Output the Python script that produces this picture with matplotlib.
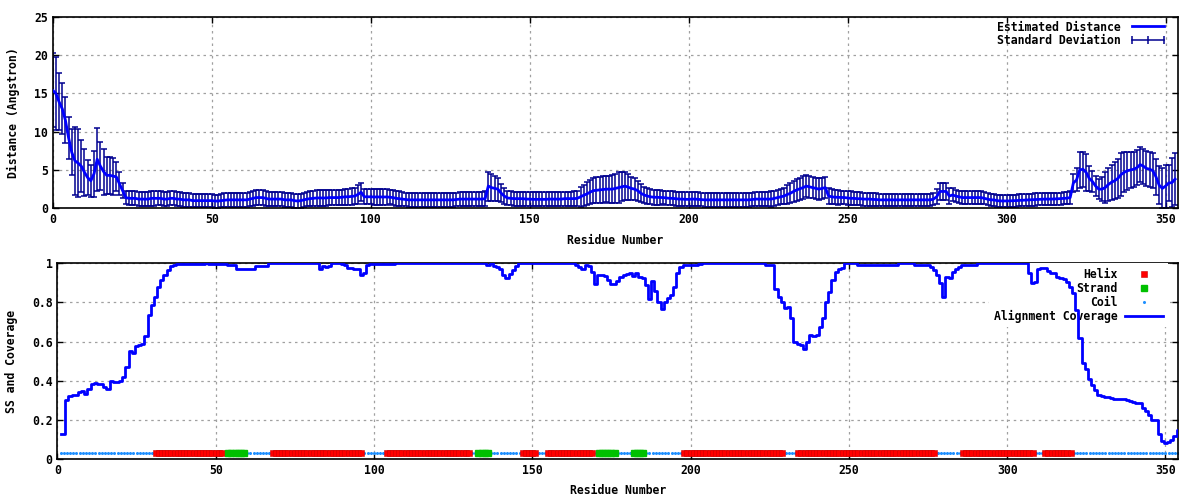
import numpy as np
import matplotlib
matplotlib.use("Agg")
import matplotlib.pyplot as plt
from matplotlib.lines import Line2D

# distance estimate per residue (0..353)
dist = [
    15.4, 15.0, 13.9, 13.0, 11.5, 9.2, 7.3, 6.2, 5.9, 5.5,
    4.7, 4.0, 3.6, 4.5, 6.4, 5.5, 4.8, 4.3, 4.3, 4.2,
    4.1, 3.2, 2.3, 1.4, 1.3, 1.3, 1.3, 1.2, 1.2, 1.2,
    1.2, 1.3, 1.3, 1.3, 1.3, 1.2, 1.2, 1.3, 1.3, 1.2,
    1.2, 1.1, 1.1, 1.1, 1.0, 1.0, 1.0, 1.0, 1.0, 1.0,
    1.0, 0.95, 0.95, 1.0, 1.05, 1.1, 1.1, 1.1, 1.1, 1.1,
    1.1, 1.1, 1.2, 1.3, 1.4, 1.4, 1.4, 1.3, 1.2, 1.2,
    1.2, 1.2, 1.2, 1.1, 1.1, 1.1, 1.0, 0.95, 1.0, 1.1,
    1.2, 1.26, 1.3, 1.35, 1.35, 1.35, 1.35, 1.4, 1.4, 1.4,
    1.4, 1.45, 1.5, 1.5, 1.55, 1.6, 1.8, 2.1, 1.5, 1.5,
    1.5, 1.48, 1.48, 1.48, 1.48, 1.48, 1.45, 1.4, 1.3, 1.25,
    1.2, 1.15, 1.1, 1.1, 1.1, 1.1, 1.1, 1.1, 1.1, 1.1,
    1.1, 1.1, 1.1, 1.1, 1.1, 1.1, 1.1, 1.15, 1.2, 1.2,
    1.2, 1.2, 1.2, 1.2, 1.2, 1.2, 1.25, 2.9, 2.7, 2.6,
    2.5, 2.0, 1.6, 1.35, 1.3, 1.26, 1.26, 1.26, 1.25, 1.2,
    1.2, 1.17, 1.17, 1.17, 1.17, 1.17, 1.2, 1.2, 1.2, 1.2,
    1.2, 1.26, 1.26, 1.26, 1.26, 1.3, 1.5, 1.7, 1.87, 2.1,
    2.3, 2.35, 2.4, 2.45, 2.5, 2.5, 2.5, 2.6, 2.7, 2.8,
    2.9, 2.75, 2.6, 2.5, 2.3, 1.96, 1.74, 1.6, 1.5, 1.45,
    1.43, 1.4, 1.4, 1.35, 1.3, 1.3, 1.25, 1.2, 1.2, 1.17,
    1.17, 1.2, 1.2, 1.17, 1.15, 1.1, 1.1, 1.1, 1.1, 1.1,
    1.1, 1.1, 1.1, 1.1, 1.1, 1.1, 1.1, 1.1, 1.1, 1.1,
    1.15, 1.2, 1.2, 1.2, 1.2, 1.2, 1.2, 1.3, 1.4, 1.5,
    1.6, 1.8, 1.96, 2.2, 2.4, 2.55, 2.7, 2.9, 2.8, 2.7,
    2.6, 2.5, 2.6, 2.7, 1.6, 1.5, 1.45, 1.43, 1.4, 1.4,
    1.35, 1.3, 1.3, 1.25, 1.25, 1.2, 1.2, 1.2, 1.15, 1.15,
    1.1, 1.1, 1.1, 1.1, 1.1, 1.1, 1.1, 1.1, 1.1, 1.1,
    1.1, 1.1, 1.1, 1.1, 1.1, 1.1, 1.1, 1.2, 1.5, 2.2,
    2.2, 2.2, 1.6, 1.74, 1.6, 1.5, 1.4, 1.4, 1.4, 1.4,
    1.4, 1.4, 1.4, 1.3, 1.2, 1.1, 1.1, 1.0, 0.96, 0.96,
    0.96, 0.96, 1.0, 1.0, 1.04, 1.05, 1.08, 1.1, 1.12, 1.15,
    1.17, 1.18, 1.2, 1.2, 1.2, 1.22, 1.24, 1.26, 1.3, 1.32,
    1.4, 3.3, 3.7, 5.0, 5.1, 4.7, 3.9, 3.5, 2.9, 2.5,
    2.5, 2.7, 3.1, 3.4, 3.6, 3.9, 4.4, 4.7, 4.9, 5.0,
    5.1, 5.3, 5.7, 5.5, 5.2, 5.1, 4.9, 4.1, 3.0, 2.6,
    2.9, 3.3, 3.35, 3.8,
]

# standard deviation per residue
std = [
    4.85, 4.75, 3.7, 3.3, 3.0, 2.75, 3.0, 4.4, 4.4, 3.4,
    3.1, 2.3, 2.1, 3.0, 4.1, 3.1, 3.0, 2.4, 2.4, 2.4,
    1.9, 1.5, 1.0, 0.9, 0.9, 0.9, 0.9, 0.9, 0.9, 0.9,
    0.9, 0.95, 0.95, 0.9, 0.9, 0.9, 0.95, 0.9, 0.9, 0.9,
    0.9, 0.9, 0.9, 0.9, 0.85, 0.85, 0.85, 0.85, 0.85, 0.85,
    0.85, 0.85, 0.85, 0.85, 0.9, 0.9, 0.9, 0.9, 0.9, 0.9,
    0.9, 0.9, 0.95, 1.0, 1.0, 1.0, 1.0, 0.95, 0.9, 0.9,
    0.9, 0.9, 0.9, 0.9, 0.9, 0.9, 0.9, 0.9, 0.9, 0.95,
    0.95, 1.0, 1.0, 1.0, 1.0, 1.0, 1.0, 1.0, 1.0, 1.0,
    1.0, 1.0, 1.05, 1.05, 1.1, 1.1, 1.2, 1.2, 1.0, 1.0,
    1.0, 1.0, 1.0, 1.0, 1.0, 1.0, 0.95, 0.95, 0.95, 0.95,
    0.9, 0.9, 0.9, 0.9, 0.9, 0.9, 0.9, 0.9, 0.9, 0.9,
    0.9, 0.9, 0.9, 0.9, 0.9, 0.9, 0.9, 0.9, 0.9, 0.9,
    0.9, 0.9, 0.9, 0.9, 0.9, 0.9, 1.0, 1.9, 1.8, 1.6,
    1.5, 1.2, 1.0, 0.9, 0.9, 0.9, 0.9, 0.9, 0.9, 0.9,
    0.9, 0.9, 0.9, 0.9, 0.9, 0.9, 0.9, 0.9, 0.9, 0.9,
    0.9, 0.9, 0.9, 0.9, 0.95, 1.0, 1.3, 1.4, 1.5, 1.6,
    1.6, 1.7, 1.7, 1.7, 1.7, 1.75, 1.8, 1.9, 2.0, 1.9,
    1.8, 1.7, 1.5, 1.4, 1.3, 1.2, 1.1, 1.0, 1.0, 1.0,
    0.95, 0.95, 0.9, 0.9, 0.9, 0.9, 0.9, 0.9, 0.9, 0.9,
    0.9, 0.9, 0.9, 0.9, 0.9, 0.9, 0.9, 0.9, 0.9, 0.9,
    0.9, 0.9, 0.9, 0.9, 0.9, 0.9, 0.9, 0.9, 0.9, 0.9,
    0.9, 0.9, 0.9, 0.9, 0.9, 0.9, 1.0, 1.0, 1.0, 1.0,
    1.1, 1.2, 1.3, 1.4, 1.45, 1.45, 1.45, 1.45, 1.4, 1.4,
    1.4, 1.4, 1.4, 1.4, 1.0, 1.0, 0.95, 0.95, 0.9, 0.9,
    0.9, 0.9, 0.85, 0.85, 0.85, 0.85, 0.85, 0.85, 0.8, 0.8,
    0.8, 0.8, 0.8, 0.8, 0.8, 0.8, 0.8, 0.8, 0.8, 0.8,
    0.8, 0.8, 0.8, 0.8, 0.8, 0.8, 0.8, 0.8, 1.0, 1.1,
    1.1, 1.1, 1.0, 0.85, 0.8, 0.8, 0.8, 0.8, 0.8, 0.8,
    0.8, 0.8, 0.8, 0.8, 0.8, 0.8, 0.8, 0.8, 0.8, 0.8,
    0.8, 0.8, 0.8, 0.8, 0.8, 0.8, 0.8, 0.8, 0.8, 0.8,
    0.8, 0.8, 0.8, 0.8, 0.8, 0.8, 0.8, 0.8, 0.8, 0.8,
    0.85, 1.2, 1.5, 2.3, 2.3, 2.4, 1.6, 1.4, 1.3, 1.3,
    1.6, 2.0, 2.2, 2.3, 2.4, 2.5, 2.8, 2.6, 2.5, 2.4,
    2.3, 2.3, 2.3, 2.3, 2.3, 2.3, 2.3, 2.3, 2.5, 2.6,
    2.8, 2.4, 3.2, 3.4,
]

# alignment coverage per residue (1..354), bottom panel
coverage = [
    0.13, 0.13, 0.30, 0.32, 0.327, 0.327, 0.344, 0.35, 0.33, 0.36,
    0.385, 0.39, 0.385, 0.385, 0.37, 0.36, 0.40, 0.395, 0.395, 0.40,
    0.42, 0.47, 0.55, 0.54, 0.575, 0.585, 0.59, 0.63, 0.735, 0.787,
    0.83, 0.88, 0.915, 0.94, 0.966, 0.986, 0.993, 0.997, 0.997, 0.997,
    0.997, 0.997, 0.997, 0.997, 0.997, 0.997, 1.0, 0.995, 0.995, 0.995,
    0.995, 0.995, 0.995, 0.99, 0.99, 0.99, 0.973, 0.973, 0.973, 0.973,
    0.973, 0.973, 0.985, 0.985, 0.985, 0.986, 1.0, 1.0, 1.0, 1.0,
    1.0, 1.0, 1.0, 1.0, 1.0, 1.0, 1.0, 1.0, 1.0, 1.0,
    1.0, 1.0, 0.97, 0.985, 0.983, 0.985, 1.0, 1.0, 1.0, 0.997,
    0.99, 0.974, 0.975, 0.97, 0.973, 0.94, 0.95, 0.99, 0.995, 0.995,
    0.995, 0.995, 0.995, 0.995, 0.995, 0.995, 1.0, 1.0, 1.0, 1.0,
    1.0, 1.0, 1.0, 1.0, 1.0, 1.0, 1.0, 1.0, 1.0, 1.0,
    1.0, 1.0, 1.0, 1.0, 1.0, 1.0, 1.0, 1.0, 1.0, 1.0,
    1.0, 1.0, 1.0, 1.0, 1.0, 0.99, 1.0, 0.985, 0.98, 0.97,
    0.94, 0.925, 0.947, 0.964, 0.985, 1.0, 1.0, 1.0, 1.0, 1.0,
    1.0, 1.0, 1.0, 1.0, 1.0, 1.0, 1.0, 1.0, 1.0, 1.0,
    1.0, 1.0, 1.0, 0.99, 0.98, 0.969, 0.99, 0.985, 0.956, 0.896,
    0.94, 0.94, 0.935, 0.913, 0.893, 0.893, 0.908, 0.93, 0.939, 0.947,
    0.95, 0.935, 0.952, 0.93, 0.925, 0.888, 0.82, 0.908, 0.86, 0.80,
    0.769, 0.80, 0.823, 0.837, 0.88, 0.95, 0.98, 0.99, 0.99, 0.99,
    0.99, 0.99, 0.995, 1.0, 1.0, 1.0, 1.0, 1.0, 1.0, 1.0,
    1.0, 1.0, 1.0, 1.0, 1.0, 1.0, 1.0, 1.0, 1.0, 1.0,
    1.0, 1.0, 1.0, 0.993, 0.993, 0.993, 0.87, 0.83, 0.80, 0.77,
    0.775, 0.72, 0.60, 0.59, 0.584, 0.56, 0.60, 0.633, 0.63, 0.636,
    0.675, 0.718, 0.80, 0.854, 0.913, 0.956, 0.97, 0.976, 1.0, 1.0,
    1.0, 1.0, 0.993, 0.993, 0.993, 0.993, 0.993, 0.993, 0.993, 0.993,
    0.993, 0.993, 0.993, 0.993, 0.993, 1.0, 1.0, 1.0, 1.0, 1.0,
    0.99, 0.99, 0.99, 0.99, 0.99, 0.98, 0.966, 0.94, 0.90, 0.83,
    0.93, 0.925, 0.955, 0.97, 0.98, 0.993, 0.993, 0.993, 0.993, 0.993,
    1.0, 1.0, 1.0, 1.0, 1.0, 1.0, 1.0, 1.0, 1.0, 1.0,
    1.0, 1.0, 1.0, 1.0, 1.0, 1.0, 0.95, 0.90, 0.905, 0.969,
    0.974, 0.974, 0.962, 0.952, 0.95, 0.93, 0.927, 0.918, 0.906, 0.88,
    0.847, 0.76, 0.62, 0.49, 0.46, 0.41, 0.378, 0.353, 0.327, 0.322,
    0.319, 0.315, 0.31, 0.307, 0.307, 0.307, 0.307, 0.30, 0.298, 0.292,
    0.288, 0.285, 0.259, 0.245, 0.225, 0.20, 0.197, 0.13, 0.09, 0.083,
    0.089, 0.095, 0.118, 0.148,
]

# secondary structure segments (first, last residue)
helix_segments = [(31, 52), (68, 96), (104, 130), (147, 151), (155, 169),
                  (198, 229), (234, 277), (286, 308), (312, 320)]
strand_segments = [(54, 59), (133, 136), (171, 176), (182, 185)]
n_res = 354
ss_level = 0.03

dist_res = np.arange(0, len(dist))
cov_res = np.arange(1, len(coverage) + 1)

ss = np.array(["C"] * n_res)
for a, b in helix_segments:
    ss[a - 1:b] = "H"
for a, b in strand_segments:
    ss[a - 1:b] = "E"
res_all = np.arange(1, n_res + 1)

mono = "DejaVu Sans Mono"
fs = 8.3
label_font = dict(family=mono, weight="bold", size=fs)
legend_font = dict(family=mono, weight="bold", size=fs)


def style_axes(ax):
    ax.grid(True, color="#a0a0a0", linestyle=(0, (2, 3)), linewidth=0.9)
    ax.tick_params(direction="in", length=4, width=1, top=True, right=True)
    for sp in ax.spines.values():
        sp.set_linewidth(1.2)
    for lab in ax.get_xticklabels() + ax.get_yticklabels():
        lab.set_fontfamily(mono)
        lab.set_fontweight("bold")
        lab.set_fontsize(fs)


fig = plt.figure(figsize=(12, 5), dpi=100)

# top panel
ax1 = fig.add_axes([0.0439, 0.5834, 0.938, 0.3832])
ax1.errorbar(dist_res, dist, yerr=std, fmt="none", ecolor="#000090",
             elinewidth=1.1, capsize=2.5, capthick=1.1, zorder=2)
ax1.plot(dist_res, dist, color="#0000ff", linewidth=2, zorder=3)
ax1.set_xlim(0, 354)
ax1.set_ylim(0, 25)
ax1.set_xticks(np.arange(0, 351, 50))
ax1.set_yticks(np.arange(0, 26, 5))
ax1.set_xlabel("Residue Number", fontdict=label_font, labelpad=5.5)
ax1.set_ylabel("Distance (Angstron)", fontdict=label_font, labelpad=10)
style_axes(ax1)

h_line = Line2D([], [], color="#0000ff", linewidth=2)
h_std = Line2D([], [], color="#000090", linewidth=1.1, marker="|",
               markersize=6, markeredgewidth=1.1)
ax1.legend([h_line, h_std], ["Estimated Distance", "Standard Deviation"],
           loc="upper right", bbox_to_anchor=(0.99, 0.98),
           markerfirst=False, frameon=False, numpoints=3,
           prop=legend_font, handlelength=3.3, labelspacing=0.08,
           borderaxespad=0.0, borderpad=0.0, handletextpad=0.7)

# bottom panel
ax2 = fig.add_axes([0.0478, 0.082, 0.934, 0.3914])
hel = res_all[ss == "H"]
stra = res_all[ss == "E"]
coil = res_all[ss == "C"]
ax2.plot(coil, np.full(len(coil), ss_level), linestyle="none", marker="o",
         markersize=1.2, color="#1e90ff", label="Coil", zorder=2)
ax2.plot(hel, np.full(len(hel), ss_level), linestyle="none", marker="s",
         markersize=4.3, color="#ff0000", markeredgecolor="#cc0000",
         markeredgewidth=0.4, label="Helix", zorder=3)
ax2.plot(stra, np.full(len(stra), ss_level), linestyle="none", marker="s",
         markersize=5, color="#00c000", label="Strand", zorder=3)
ax2.plot(cov_res, coverage, color="#0000ff", linewidth=2,
         drawstyle="steps-mid", label="Alignment Coverage", zorder=7)
ax2.set_xlim(0, 354)
ax2.set_ylim(0, 1)
ax2.set_xticks(np.arange(0, 351, 50))
ax2.set_yticks([0, 0.2, 0.4, 0.6, 0.8, 1.0])
ax2.set_yticklabels(["0", "0.2", "0.4", "0.6", "0.8", "1"])
ax2.set_xlabel("Residue Number", fontdict=label_font, labelpad=5.5)
ax2.set_ylabel("SS and Coverage", fontdict=label_font, labelpad=10)
style_axes(ax2)

handles, labels = ax2.get_legend_handles_labels()
order = [labels.index(k) for k in ["Helix", "Strand", "Coil", "Alignment Coverage"]]
leg2 = ax2.legend([handles[i] for i in order], [labels[i] for i in order],
                  loc="upper right", bbox_to_anchor=(0.991, 1.0),
                  markerfirst=False, frameon=True,
                  facecolor="white", edgecolor="none", framealpha=1.0,
                  fancybox=False, prop=legend_font, handlelength=3.3,
                  labelspacing=0.08, borderaxespad=0.0, borderpad=0.4,
                  handletextpad=0.7)
leg2.set_zorder(5)

fig.savefig("out.png", dpi=100)
